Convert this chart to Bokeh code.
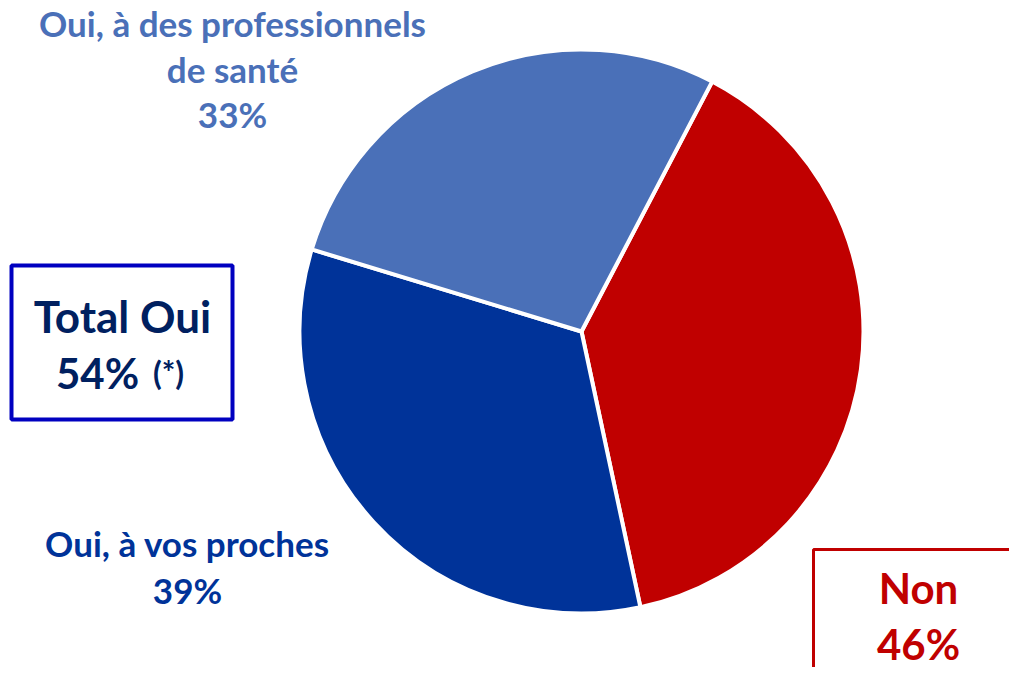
import math
from bokeh.plotting import figure
from bokeh.models import Range1d, ColumnDataSource
from bokeh.core.properties import value
from bokeh.embed import file_html
from bokeh.resources import INLINE

# ---- data ----
categories = ["Non", "Oui, à vos proches", "Oui, à des professionnels de santé"]
values = [46, 39, 33]
colors = ["#C00000", "#003399", "#4A70B8"]
total_oui = 54

W, H = 1009, 667
FONT = "Lato"
BASE_FIX = 13  # svg alphabetic baseline offset

p = figure(width=W, height=H, output_backend="svg", toolbar_location=None,
           x_range=Range1d(0, W), y_range=Range1d(0, H),
           min_border=0, outline_line_color=None)
p.axis.visible = False
p.grid.visible = False
p.background_fill_color = "white"
p.border_fill_color = "white"

def Y(py):
    return H - py

# pie wedges, clockwise from first boundary
total = sum(values)
start0 = math.radians(62.4)
starts, ends = [], []
a = start0
for v in values:
    starts.append(a)
    a = a - v / total * 2 * math.pi
    ends.append(a)
src = ColumnDataSource(dict(start=starts, end=ends, color=colors, cat=categories, val=values))
p.wedge(x=581, y=Y(331), radius=282, start_angle="start", end_angle="end",
        direction="clock", fill_color="color", line_color="white", line_width=4, source=src)

def txt(x, py, s, color, size, align="center"):
    p.text(x=[x], y=[Y(py - BASE_FIX)], text=[s], text_color=color, text_font=value(FONT),
           text_font_style="bold", text_font_size=f"{size}px", text_align=align,
           text_baseline="alphabetic")

# label: professionnels
txt(232, 35, "Oui, à des professionnels", colors[2], 35)
txt(232, 81, "de santé", colors[2], 35)
txt(232, 126, f"{values[2]}%", colors[2], 35)

# label: proches
txt(187, 555, "Oui, à vos proches", colors[1], 35)
txt(187, 602, f"{values[1]}%", colors[1], 35)

# Total Oui box
p.quad(left=[11], right=[232], top=[Y(265)], bottom=[Y(419)], fill_color=None,
       line_color="#0000C0", line_width=4)
txt(122, 328, "Total Oui", "#002060", 44)
txt(97, 385, f"{total_oui}%", "#002060", 42)
txt(168, 385, "(*)", "#002060", 32)

# Non box
p.quad(left=[813], right=[1030], top=[Y(549)], bottom=[Y(700)], fill_color=None,
       line_color="#C00000", line_width=3)
txt(918, 600, categories[0], colors[0], 42)
txt(918, 656, f"{values[0]}%", colors[0], 42)

open("out.html", "w").write(file_html(p, INLINE))
